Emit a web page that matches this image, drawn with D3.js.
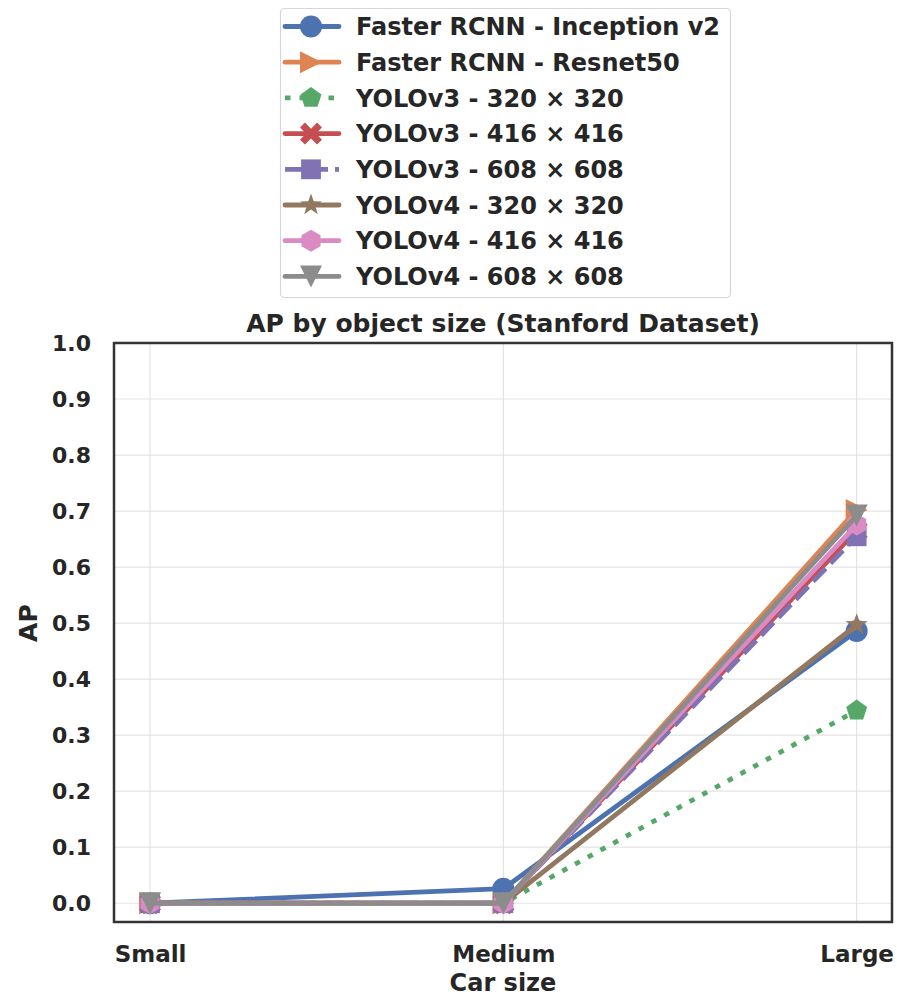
<!DOCTYPE html>
<html>
<head>
<meta charset="utf-8">
<script src="https://cdn.jsdelivr.net/npm/d3@7"></script>
<style>
  body { margin: 0; background: #fff; }
  text { font-family: "DejaVu Sans", sans-serif; font-weight: bold; fill: #262626; }
</style>
</head>
<body>
<div id="chart"></div>
<script>
// categories and series
const categories = ["Small", "Medium", "Large"];
const seriesNames = [
  "Faster RCNN - Inception v2",
  "Faster RCNN - Resnet50",
  "YOLOv3 - 320 × 320",
  "YOLOv3 - 416 × 416",
  "YOLOv3 - 608 × 608",
  "YOLOv4 - 320 × 320",
  "YOLOv4 - 416 × 416",
  "YOLOv4 - 608 × 608"
];
const inceptionV2 = [0.0, 0.026, 0.486];
const resnet50 = [0.0, 0.0, 0.702];
const yolo3_320 = [0.0, 0.0, 0.344];
const yolo3_416 = [0.0, 0.0, 0.665];
const yolo3_608 = [0.0, 0.0, 0.655];
const yolo4_320 = [0.0, 0.0, 0.497];
const yolo4_416 = [0.0, 0.0, 0.676];
const yolo4_608 = [0.0, 0.0, 0.692];
const yTicks = [0.0, 0.1, 0.2, 0.3, 0.4, 0.5, 0.6, 0.7, 0.8, 0.9, 1.0];

const colors = ["#4C72B0", "#DD8452", "#55A868", "#C44E52", "#8172B3", "#937860", "#DA8BC3", "#8C8C8C"];
const dashes = [null, null, "5.5,9", null, "18,7", null, null, null];
const markers = ["circle", "triright", "pentagon", "xfill", "square", "star", "hexagon", "tridown"];

const allValues = [inceptionV2, resnet50, yolo3_320, yolo3_416, yolo3_608, yolo4_320, yolo4_416, yolo4_608];

const W = 897, H = 998;
const plot = {left: 114, right: 892, top: 343, bottom: 922};

const svg = d3.select("#chart").append("svg")
  .attr("width", W).attr("height", H);

const x = d3.scaleLinear().domain([-0.102, 2.1]).range([plot.left, plot.right]);
const y = d3.scaleLinear().domain([-0.0335, 1.0]).range([plot.bottom, plot.top]);

// marker path builder, r = outer radius in px
function markerPath(type, r) {
  const poly = (pts) => "M" + pts.map(p => p[0].toFixed(2) + "," + p[1].toFixed(2)).join("L") + "Z";
  const regular = (n, rad, rot) => d3.range(n).map(i => {
    const a = rot + i * 2 * Math.PI / n;
    return [rad * Math.sin(a), -rad * Math.cos(a)];
  });
  switch (type) {
    case "circle": {
      return "M" + r + ",0A" + r + "," + r + " 0 1,1 " + (-r) + ",0A" + r + "," + r + " 0 1,1 " + r + ",0Z";
    }
    case "triright": return poly([[r, 0], [-r, -r], [-r, r]]);
    case "tridown": return poly([[0, r], [-r, -r], [r, -r]]);
    case "pentagon": return poly(regular(5, r, 0));
    case "hexagon": return poly(regular(6, r, 0));
    case "square": { const s = r * 0.9; return poly([[-s, -s], [s, -s], [s, s], [-s, s]]); }
    case "star": {
      const pts = d3.range(10).map(i => {
        const a = i * Math.PI / 5;
        const rad = i % 2 === 0 ? r * 1.05 : r * 0.42;
        return [rad * Math.sin(a), -rad * Math.cos(a)];
      });
      return poly(pts);
    }
    case "xfill": {
      const a = r, b = r * 0.45;
      return poly([[-a, -a + b], [-a + b, -a], [0, -b], [a - b, -a], [a, -a + b], [b, 0],
                   [a, a - b], [a - b, a], [0, b], [-a + b, a], [-a, a - b], [-b, 0]]);
    }
  }
}

// grid
svg.append("g").selectAll("line.gy").data(yTicks).join("line")
  .attr("x1", plot.left).attr("x2", plot.right)
  .attr("y1", d => y(d)).attr("y2", d => y(d))
  .attr("stroke", "#e3e3e3").attr("stroke-width", 1.2);
svg.append("g").selectAll("line.gx").data(categories).join("line")
  .attr("y1", plot.top).attr("y2", plot.bottom)
  .attr("x1", (d, i) => x(i)).attr("x2", (d, i) => x(i))
  .attr("stroke", "#e3e3e3").attr("stroke-width", 1.2);

// series
const line = d3.line().x((d, i) => x(i)).y(d => y(d));

const series = svg.append("g");
allValues.forEach((vals, s) => {
  const g = series.append("g");
  g.append("path")
    .attr("d", line(vals))
    .attr("fill", "none")
    .attr("stroke", colors[s])
    .attr("stroke-width", 4.8)
    .attr("stroke-linejoin", "round")
    .attr("stroke-linecap", dashes[s] ? "butt" : "round")
    .attr("stroke-dasharray", dashes[s]);
  g.selectAll("path.m").data(vals).join("path")
    .attr("class", "m")
    .attr("transform", (d, i) => "translate(" + x(i) + "," + y(d) + ")")
    .attr("d", markerPath(markers[s], 11))
    .attr("fill", colors[s]);
});

// frame
svg.append("rect")
  .attr("x", plot.left).attr("y", plot.top)
  .attr("width", plot.right - plot.left).attr("height", plot.bottom - plot.top)
  .attr("fill", "none").attr("stroke", "#333").attr("stroke-width", 2.5);

// y axis
const yAxis = svg.append("g")
  .attr("transform", "translate(" + plot.left + ",0)")
  .call(d3.axisLeft(y).tickValues(yTicks).tickFormat(d3.format(".1f")).tickSize(0).tickPadding(23));
yAxis.select(".domain").remove();
yAxis.selectAll("text").attr("font-size", 22).attr("font-family", null).attr("fill", null);

// x axis
const xAxis = svg.append("g")
  .attr("transform", "translate(0," + plot.bottom + ")")
  .call(d3.axisBottom(x).tickValues([0, 1, 2]).tickFormat((d) => categories[d]).tickSize(0).tickPadding(24));
xAxis.select(".domain").remove();
xAxis.selectAll("text").attr("font-size", 23).attr("font-family", null).attr("fill", null);

// labels
svg.append("text").attr("x", (plot.left + plot.right) / 2).attr("y", 991)
  .attr("text-anchor", "middle").attr("font-size", 24).text("Car size");
svg.append("text").attr("transform", "translate(37," + y(0.5) + ") rotate(-90)")
  .attr("text-anchor", "middle").attr("font-size", 25).text("AP");
svg.append("text").attr("x", (plot.left + plot.right) / 2).attr("y", 332)
  .attr("text-anchor", "middle").attr("font-size", 25).text("AP by object size (Stanford Dataset)");

// legend
const leg = svg.append("g");
leg.append("rect")
  .attr("x", 280.5).attr("y", 8.5).attr("width", 450).attr("height", 289)
  .attr("rx", 4).attr("fill", "#fff").attr("stroke", "#d6d6d6").attr("stroke-width", 1.2);
seriesNames.forEach((name, s) => {
  const cy = 26.5 + s * 35.7;
  const g = leg.append("g").attr("transform", "translate(0," + cy + ")");
  g.append("line").attr("x1", 285).attr("x2", 339).attr("y1", 0).attr("y2", 0)
    .attr("stroke", colors[s]).attr("stroke-width", 4.8)
    .attr("stroke-linecap", dashes[s] ? "butt" : "round")
    .attr("stroke-dasharray", dashes[s]);
  g.append("path").attr("transform", "translate(311,0)")
    .attr("d", markerPath(markers[s], 11)).attr("fill", colors[s]);
  g.append("text").attr("x", 356).attr("y", 8.7).attr("font-size", 24).text(name);
});
</script>
</body>
</html>
